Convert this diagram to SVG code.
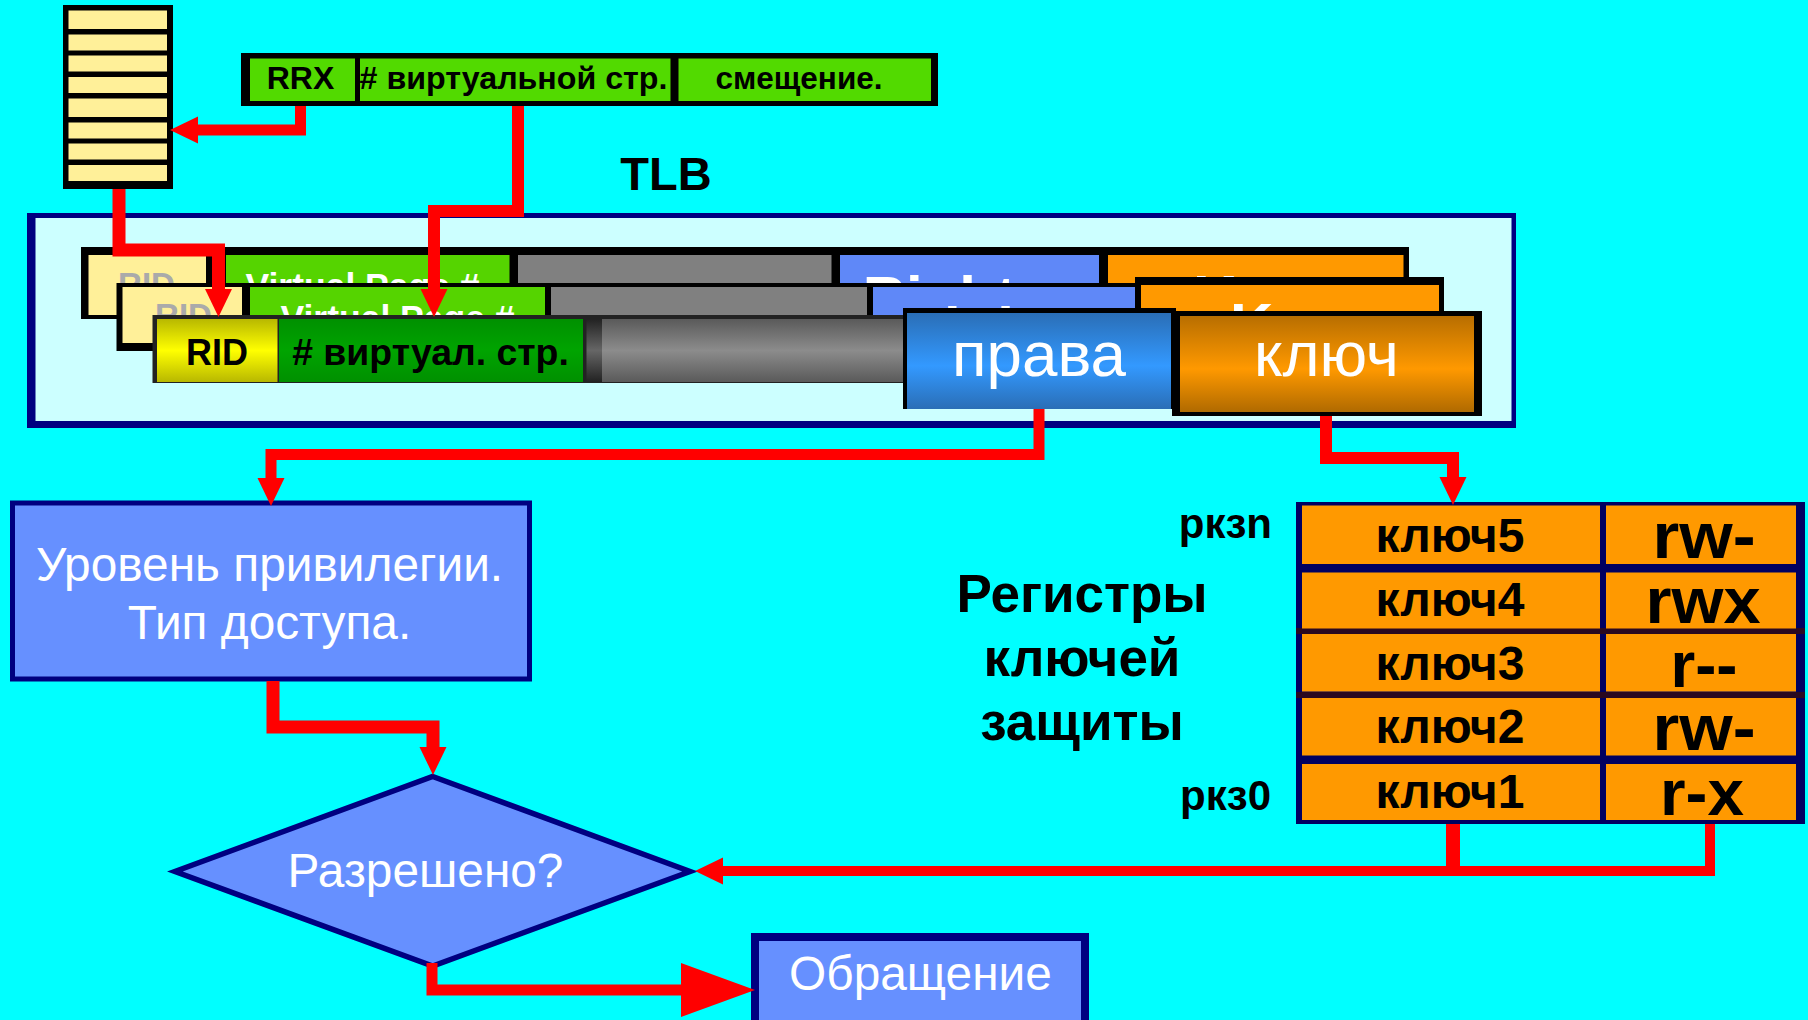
<svg xmlns="http://www.w3.org/2000/svg" width="1808" height="1020" viewBox="0 0 1808 1020">
<style>
text{font-family:"Liberation Sans",Arial,sans-serif;text-anchor:middle}
.b{font-weight:bold;fill:#000}
.w{fill:#fff}
.st{fill:#fff099}
.bar{fill:#52da00}
.navy{fill:#000080}
.lb{fill:#6690ff;stroke:#000080}
.or{fill:#ff9900}
.gr{fill:#808080}
.bl{fill:#5f88f8}
.g1{fill:#55d400}
.ghost{font-weight:bold;fill:#fff}
.rid{font-weight:bold;fill:#aaa;font-size:33px}
.ctext{font-weight:bold;fill:#000;font-size:48px}
.rtext{font-weight:bold;fill:#000;font-size:64px}
.c{fill:none;stroke:#f00;stroke-linejoin:miter}
</style>
<defs>
<marker id="h" markerUnits="userSpaceOnUse" markerWidth="30" markerHeight="30" refX="14" refY="15" orient="auto" viewBox="0 0 30 30"><path d="M0 1.5L28 15L0 28.5Z" fill="#f00"/></marker>
<marker id="big" markerUnits="userSpaceOnUse" markerWidth="76" markerHeight="56" refX="30" refY="28" orient="auto" viewBox="0 0 76 56"><path d="M0 1L74 28L0 55Z" fill="#f00"/></marker>
<linearGradient id="gy" x1="0" y1="0" x2="0" y2="1"><stop offset="0" stop-color="#b8b800"/><stop offset=".5" stop-color="#ffff00"/><stop offset="1" stop-color="#b8b800"/></linearGradient>
<linearGradient id="gg" x1="0" y1="0" x2="0" y2="1"><stop offset="0" stop-color="#009000"/><stop offset=".5" stop-color="#00a400"/><stop offset="1" stop-color="#009000"/></linearGradient>
<linearGradient id="ga" x1="0" y1="0" x2="0" y2="1"><stop offset="0" stop-color="#5a5a5a"/><stop offset=".5" stop-color="#8c8c8c"/><stop offset="1" stop-color="#5a5a5a"/></linearGradient>
<linearGradient id="gd" x1="0" y1="0" x2="0" y2="1"><stop offset="0" stop-color="#222"/><stop offset=".5" stop-color="#666"/><stop offset="1" stop-color="#222"/></linearGradient>
<linearGradient id="gb" x1="0" y1="0" x2="0" y2="1"><stop offset="0" stop-color="#2a6eb6"/><stop offset=".55" stop-color="#3399ff"/><stop offset="1" stop-color="#2a6eb6"/></linearGradient>
<linearGradient id="go" x1="0" y1="0" x2="0" y2="1"><stop offset="0" stop-color="#b86e00"/><stop offset=".55" stop-color="#ff9900"/><stop offset="1" stop-color="#b06a00"/></linearGradient>
</defs>
<rect width="1808" height="1020" fill="#00ffff"/>

<g id="region-stack">
<rect x="63" y="5" width="110" height="184" fill="#000"/>
<rect class="st" x="68.5" y="10.5" width="98.5" height="18.5"/>
<rect class="st" x="68.5" y="34.5" width="98.5" height="16"/>
<rect class="st" x="68.5" y="55.5" width="98.5" height="16"/>
<rect class="st" x="68.5" y="77" width="98.5" height="16"/>
<rect class="st" x="68.5" y="98.5" width="98.5" height="18.5"/>
<rect class="st" x="68.5" y="122.5" width="98.5" height="16"/>
<rect class="st" x="68.5" y="143.5" width="98.5" height="16"/>
<rect class="st" x="68.5" y="165" width="98.5" height="16"/>
</g>

<g id="address">
<rect x="241" y="53" width="697" height="53" fill="#000"/>
<rect class="bar" x="250" y="58.5" width="105" height="42.5"/>
<rect class="bar" x="360" y="58.5" width="310.5" height="42.5"/>
<rect class="bar" x="678.5" y="58.5" width="252.5" height="42.5"/>
<text class="b" x="300.5" y="89" font-size="32">RRX</text>
<text class="b" x="513.5" y="89" font-size="32.2">#  виртуальной стр.</text>
<text class="b" x="799" y="89" font-size="31.5">смещение.</text>
</g>

<g id="tlb-title"><text class="b" x="666" y="190" font-size="47">TLB</text></g>

<g id="tlb">
<rect class="navy" x="27" y="213" width="1489" height="215"/>
<rect x="35.5" y="218" width="1476" height="203" fill="#ccffff"/>
<g id="tlb-row1">
<rect x="81" y="247" width="1328" height="72" fill="#000"/>
<rect class="st" x="88.5" y="255" width="117.5" height="60"/>
<rect class="g1" x="226" y="255" width="283.5" height="33"/>
<rect class="gr" x="518" y="255" width="313.5" height="33"/>
<rect class="bl" x="840" y="255" width="259" height="33"/>
<rect class="or" x="1108" y="255" width="295.5" height="33"/>
<text class="rid" x="146.5" y="296">RID</text>
<text class="ghost" x="362.5" y="297.5" font-size="35.5">Virtual Page #</text>
<text class="ghost" x="956" y="318" font-size="60">Rights</text>
<text class="ghost" x="1248" y="317" font-size="60">Key</text>
</g>
<g id="tlb-row2">
<rect x="116.5" y="283" width="1327.5" height="68" fill="#000"/>
<rect x="1135" y="277" width="309" height="20" fill="#000"/>
<rect class="st" x="122.5" y="287" width="119.5" height="56"/>
<rect class="g1" x="250" y="287" width="295" height="33"/>
<rect class="gr" x="551" y="287" width="316" height="33"/>
<rect class="bl" x="873" y="287" width="262" height="33"/>
<rect class="or" x="1141" y="285" width="298" height="33"/>
<text class="rid" x="183.5" y="327">RID</text>
<text class="ghost" x="397.5" y="329.5" font-size="35.5">Virtual Page #</text>
<text class="ghost" x="994" y="349" font-size="60">Rights</text>
<text class="ghost" x="1285" y="345" font-size="60">Key</text>
</g>
<g id="tlb-row3">
<rect x="152.5" y="315" width="753" height="68" fill="#222"/>
<rect x="157" y="319" width="120.5" height="63" fill="url(#gy)"/>
<rect x="279" y="319" width="304" height="63" fill="url(#gg)"/>
<rect x="586.5" y="319" width="16" height="63" fill="url(#gd)"/>
<rect x="602" y="319" width="305" height="63" fill="url(#ga)"/>
<text class="b" x="217" y="365" font-size="36">RID</text>
<text class="b" x="430.5" y="365" font-size="37.4">#  виртуал. стр.</text>
</g>
<g id="prava">
<rect x="903" y="308" width="273" height="101" fill="#000"/>
<rect x="907" y="313" width="264" height="96" fill="url(#gb)"/>
<text class="w" x="1039" y="376" font-size="63.7">права</text>
</g>
<g id="klyuch">
<rect x="1172" y="311" width="310" height="105" fill="#000"/>
<rect x="1180" y="316" width="294" height="96" fill="url(#go)"/>
<text class="w" x="1326.5" y="376" font-size="63.5">ключ</text>
</g>
</g>

<g id="level">
<rect class="lb" x="12.5" y="503" width="517" height="176" stroke-width="5"/>
<text class="w" x="269.5" y="580.5" font-size="47.8">Уровень привилегии.</text>
<text class="w" x="269.5" y="639" font-size="47.8">Тип доступа.</text>
</g>

<g id="allowed">
<path class="lb" d="M432.7 776.5L690 871.5L432.7 966L175 871.5Z" stroke-width="5.5"/>
<text class="w" x="425.5" y="886.5" font-size="47.8">Разрешено?</text>
</g>

<g id="access">
<rect class="lb" x="755" y="937" width="330" height="100" stroke-width="8"/>
<text class="w" x="920.5" y="990" font-size="47.8">Обращение</text>
</g>

<g id="registers-title">
<text class="b" x="1082" y="612" font-size="53">Регистры</text>
<text class="b" x="1082" y="676" font-size="53">ключей</text>
<text class="b" x="1082" y="740" font-size="53">защиты</text>
</g>
<g id="pkz-labels">
<text class="b" x="1272" y="538" font-size="42" style="text-anchor:end">ркзn</text>
<text class="b" x="1271" y="810" font-size="42" style="text-anchor:end">ркз0</text>
</g>

<g id="registers">
<rect x="1296" y="502" width="509" height="322" fill="#000060"/>
<rect x="1296" y="628" width="509" height="6" fill="#2a0820"/>
<rect x="1296" y="692" width="509" height="6" fill="#2a0820"/>
<rect class="or" x="1302" y="505.5" width="298" height="58.5"/><rect class="or" x="1606" y="505.5" width="190" height="58.5"/>
<rect class="or" x="1302" y="572.5" width="298" height="56"/><rect class="or" x="1606" y="572.5" width="190" height="56"/>
<rect class="or" x="1302" y="634" width="298" height="57.5"/><rect class="or" x="1606" y="634" width="190" height="57.5"/>
<rect class="or" x="1302" y="698" width="298" height="57.5"/><rect class="or" x="1606" y="698" width="190" height="57.5"/>
<rect class="or" x="1302" y="764" width="298" height="56"/><rect class="or" x="1606" y="764" width="190" height="56"/>
<text class="ctext" x="1450" y="552">ключ5</text><text class="rtext" x="1704" y="558" textLength="103" lengthAdjust="spacingAndGlyphs">rw-</text>
<text class="ctext" x="1450" y="616">ключ4</text><text class="rtext" x="1703" y="622.5" textLength="115" lengthAdjust="spacingAndGlyphs">rwx</text>
<text class="ctext" x="1450" y="680">ключ3</text><text class="rtext" x="1704" y="686.5" textLength="67" lengthAdjust="spacingAndGlyphs">r--</text>
<text class="ctext" x="1450" y="743">ключ2</text><text class="rtext" x="1704" y="750" textLength="103" lengthAdjust="spacingAndGlyphs">rw-</text>
<text class="ctext" x="1450" y="808">ключ1</text><text class="rtext" x="1702" y="815" textLength="84" lengthAdjust="spacingAndGlyphs">r-x</text>
</g>

<g id="connectors">
<path class="c" stroke-width="11" d="M300.5 106V130H184" marker-end="url(#h)"/>
<path class="c" stroke-width="12" d="M518 106V211H434V303" marker-end="url(#h)"/>
<path class="c" stroke-width="13" d="M119 189V250H218.5V303" marker-end="url(#h)"/>
<path class="c" stroke-width="11" d="M1039 409V454.5H271V492" marker-end="url(#h)"/>
<path class="c" stroke-width="12" d="M1326 416V458H1453V491" marker-end="url(#h)"/>
<path class="c" stroke-width="13" d="M273 681V727H433V761" marker-end="url(#h)"/>
<path class="c" stroke-width="10" d="M1710 824V871H709" marker-end="url(#h)"/>
<path class="c" stroke-width="14" d="M1453 824V871"/>
<path class="c" stroke-width="11" d="M432 963V990H711" marker-end="url(#big)"/>
</g>
</svg>
